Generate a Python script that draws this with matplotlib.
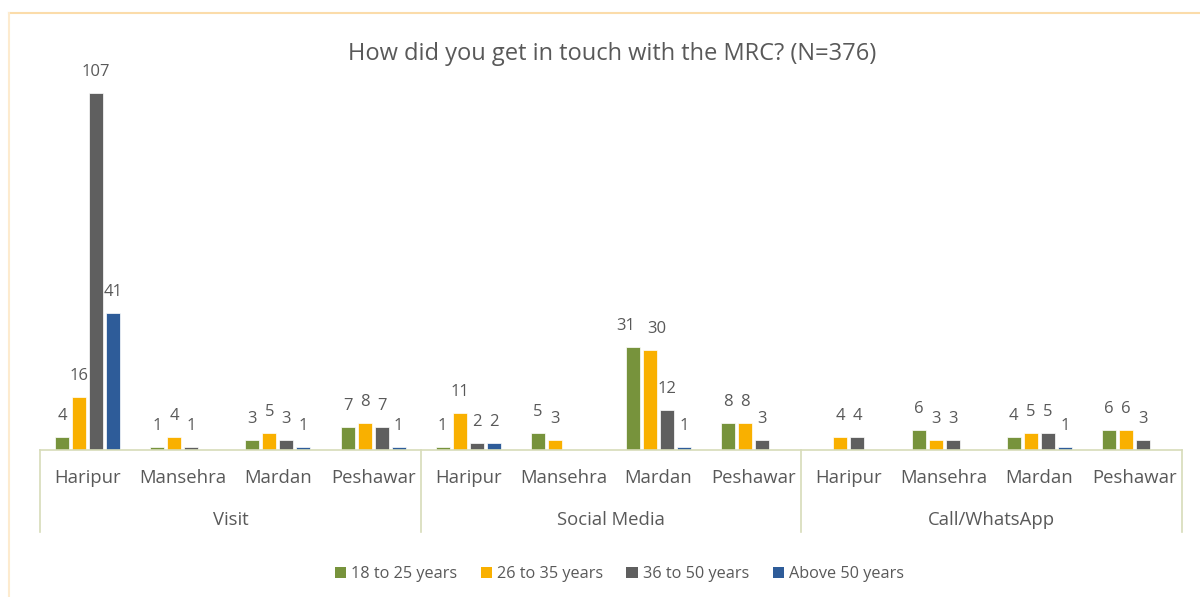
import numpy as np
import matplotlib.pyplot as plt
from matplotlib.patches import Patch
from matplotlib.lines import Line2D

plt.rcParams['font.family'] = ['Open Sans', 'DejaVu Sans']

# Data (nan = no bar)
groups = ["Visit", "Social Media", "Call/WhatsApp"]
cities = ["Haripur", "Mansehra", "Mardan", "Peshawar"]
series = ["18 to 25 years", "26 to 35 years", "36 to 50 years", "Above 50 years"]
colors = ["#77933c", "#f9b000", "#5f5f5f", "#2e5c99"]

age_18_25 = [4, 1, 3, 7, 1, 5, 31, 8, np.nan, 6, 4, 6]
age_26_35 = [16, 4, 5, 8, 11, 3, 30, 8, 4, 3, 5, 6]
age_36_50 = [107, 1, 3, 7, 2, np.nan, 12, 3, 4, 3, 5, 3]
age_50_up = [41, np.nan, 1, 1, 2, np.nan, 1, np.nan, np.nan, np.nan, 1, np.nan]
values = [age_18_25, age_26_35, age_36_50, age_50_up]

text_col = "#595959"
axis_col = "#d7dcb9"

fig = plt.figure(figsize=(12, 5.97), dpi=100)
ax = fig.add_axes([40 / 1200, 147 / 597, 1142 / 1200, 410 / 597])

n = len(groups) * len(cities)
x = np.arange(n)
pitch = 0.179
width = 0.147
# small sideways nudges so crowded labels don't collide (Social Media / Mardan)
nudge = {(0, 6): -5, (1, 6): 5}
for i, (vals, col) in enumerate(zip(values, colors)):
    pos = x + (i - 1.5) * pitch
    v = np.array(vals, dtype=float)
    ax.bar(pos, np.nan_to_num(v), width=width, color=col, edgecolor="white", linewidth=0.5)
    for k, (p, val) in enumerate(zip(pos, v)):
        if not np.isnan(val):
            ax.annotate(f"{int(val)}", (p, val), xytext=(nudge.get((i, k), 0), 15),
                        textcoords="offset points", ha="center", va="center",
                        fontsize=12, color=text_col)

ax.set_xlim(-0.5, n - 0.5)
ax.set_ylim(0, 122.9)
ax.axis("off")

# category axis: baseline, separators and labels
trans = ax.get_xaxis_transform()
ax.add_line(Line2D([-0.5, n - 0.5], [0, 0], transform=trans, color=axis_col, lw=1.2, clip_on=False))
for b in range(len(groups) + 1):
    xb = -0.5 + b * len(cities)
    ax.add_line(Line2D([xb, xb], [0, -82 / 410], transform=trans, color=axis_col, lw=1.2, clip_on=False))
for k in range(n):
    ax.text(k, -28 / 410, cities[k % len(cities)], transform=trans, ha="center", va="center",
            fontsize=13.3, color=text_col)
for g, name in enumerate(groups):
    xc = g * len(cities) + (len(cities) - 1) / 2
    ax.text(xc, -70 / 410, name, transform=trans, ha="center", va="center",
            fontsize=13.3, color=text_col)

fig.text(612 / 1200, 1 - 54 / 597, "How did you get in touch with the MRC? (N=376)", ha="center", va="center",
         fontsize=17, color=text_col)

handles = [Patch(facecolor=c, edgecolor="none") for c in colors]
fig.legend(handles, series, loc="center", bbox_to_anchor=(0.516, 1 - 574 / 597), ncol=4, frameon=False,
           handlelength=0.7, handleheight=0.7, handletextpad=0.3, columnspacing=1.45,
           fontsize=11.7, labelcolor=text_col)

# outer chart border
fig.add_artist(Line2D([9 / 1200, 1], [1 - 13 / 597] * 2, transform=fig.transFigure, color="#fbdcaa", lw=1.5))
fig.add_artist(Line2D([9 / 1200] * 2, [0, 1 - 13 / 597], transform=fig.transFigure, color="#fdebcf", lw=1.5))

fig.savefig("out.png", dpi=100)
